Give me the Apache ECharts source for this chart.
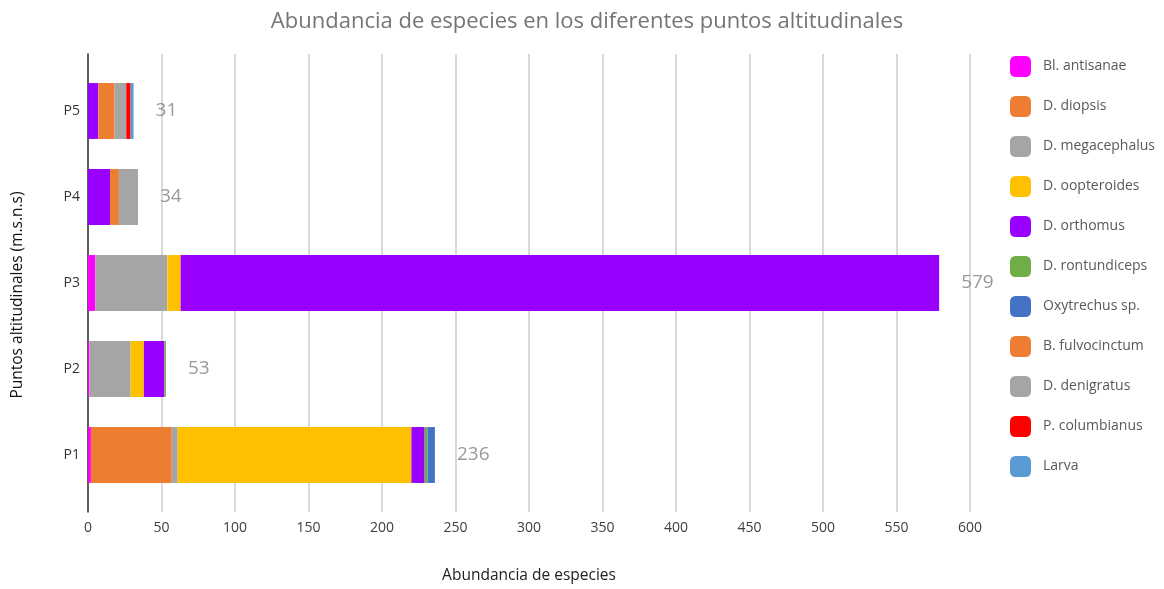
<!DOCTYPE html>
<html>
<head>
<meta charset="utf-8">
<script src="https://cdn.jsdelivr.net/npm/echarts@6/dist/echarts.min.js"></script>
<style>html,body{margin:0;padding:0;background:#fff}#c{width:1164px;height:589px}</style>
</head>
<body>
<div id="c"></div>
<script>
const categories = ['P1', 'P2', 'P3', 'P4', 'P5'];
const seriesNames = ['Bl. antisanae', 'D. diopsis', 'D. megacephalus', 'D. oopteroides', 'D. orthomus', 'D. rontundiceps', 'Oxytrechus sp.', 'B. fulvocinctum', 'D. denigratus', 'P. columbianus', 'Larva'];
const antisanae    = [2, 1, 5, 0, 0];
const diopsis      = [55, 0, 0, 0, 0];
const megacephalus = [4, 28, 49, 0, 0];
const oopteroides  = [159, 9, 9, 0, 0];
const orthomus     = [9, 14, 516, 15, 7];
const rontundiceps = [2, 1, 0, 0, 0];
const oxytrechus   = [5, 0, 0, 0, 0];
const fulvocinctum = [0, 0, 0, 6, 11];
const denigratus   = [0, 0, 0, 13, 8];
const columbianus  = [0, 0, 0, 0, 3];
const larva        = [0, 0, 0, 0, 2];
const xTicks = [0, 50, 100, 150, 200, 250, 300, 350, 400, 450, 500, 550, 600];

const values = [antisanae, diopsis, megacephalus, oopteroides, orthomus, rontundiceps, oxytrechus, fulvocinctum, denigratus, columbianus, larva];
const colors = ['#FF00FF', '#ED7D31', '#A5A5A5', '#FFC000', '#9900FF', '#70AD47', '#4472C4', '#ED7D31', '#A5A5A5', '#FF0000', '#5B9BD5'];
const totals = categories.map((c, i) => values.reduce((s, arr) => s + arr[i], 0));

const FONT = '"Open Sans", "Noto Sans", sans-serif';
const chart = echarts.init(document.getElementById('c'), null, {renderer: 'canvas'});

const series = seriesNames.map((n, k) => ({
  name: n, type: 'bar', stack: 'total', xAxisIndex: 0, yAxisIndex: 0,
  barWidth: '65%', data: values[k], itemStyle: {color: colors[k]},
  emphasis: {disabled: true}
}));
series.push({
  name: 'Total', type: 'scatter', xAxisIndex: 0, yAxisIndex: 0,
  symbolSize: 0, data: totals.map((t, i) => [t, categories[i]]),
  label: {show: true, position: 'right', distance: 22, formatter: p => p.value[0],
          fontSize: 19, color: '#7F7F7F', fontFamily: FONT},
  silent: true
});

chart.setOption({
  animation: false,
  backgroundColor: '#fff',
  title: {
    text: 'Abundancia de especies en los diferentes puntos altitudinales',
    left: 582, textAlign: 'center', top: 6,
    textStyle: {fontSize: 22, fontWeight: 'normal', color: '#757575', fontFamily: FONT}
  },
  legend: {
    data: seriesNames, orient: 'vertical', left: 1005, top: 51,
    itemWidth: 21, itemHeight: 21, itemGap: 19, icon: 'roundRect',
    textStyle: {fontSize: 14, color: '#595959', fontFamily: FONT, padding: [0, 0, 0, 7]}
  },
  grid: [
    {left: 88, right: 194, top: 68, bottom: 91},
    {left: 88, right: 194, top: 54, bottom: 77}
  ],
  xAxis: [
    {gridIndex: 0, type: 'value', min: 0, max: 600, interval: 50, show: false, splitLine: {show: false}},
    {gridIndex: 1, type: 'value', min: xTicks[0], max: xTicks[xTicks.length - 1], interval: 50,
     axisLine: {show: false}, axisTick: {show: false},
     axisLabel: {fontSize: 14, color: '#404040', fontFamily: FONT, margin: 9},
     splitLine: {show: true, lineStyle: {color: '#CCCCCC', width: 1.5}},
     name: 'Abundancia de especies', nameLocation: 'middle', nameGap: 56,
     nameTextStyle: {fontSize: 15.5, color: '#222', fontFamily: FONT}}
  ],
  yAxis: [
    {gridIndex: 0, type: 'category', data: categories,
     axisLine: {show: false}, axisTick: {show: false},
     axisLabel: {fontSize: 14, color: '#333', fontFamily: FONT, margin: 8}},
    {gridIndex: 1, type: 'value', min: 0, max: 1,
     axisLine: {show: true, lineStyle: {color: '#333', width: 1.5}},
     axisTick: {show: false}, axisLabel: {show: false}, splitLine: {show: false}}
  ],
  graphic: [{
    type: 'text', x: 18, y: 295, rotation: Math.PI / 2,
    style: {text: 'Puntos altitudinales (m.s.n.s)', fontSize: 15.5, fill: '#111', fontFamily: FONT,
            textAlign: 'center', textVerticalAlign: 'middle'}
  }],
  series: series
});
</script>
</body>
</html>
